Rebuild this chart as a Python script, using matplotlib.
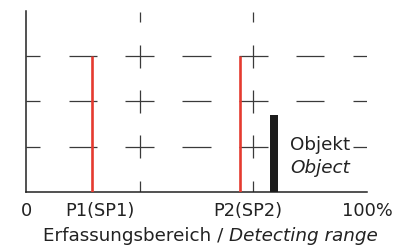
import matplotlib
matplotlib.use('Agg')
import matplotlib.pyplot as plt
import numpy as np

plt.rcParams['font.family'] = ['DejaVu Sans']

# axis range (arbitrary units)
x_max = 6
y_max = 4
grid_y = [1, 2, 3]
grid_x = [2, 4]

# switching points
sp_x = [1.16, 3.77]
sp_top = 3

# object bar
obj_x = 4.37
obj_height = 1.71
obj_width = 0.14

tick_pos = [0, 1.3, 3.9, 6]
tick_labels = ['0', 'P1(SP1)', 'P2(SP2)', '100%']

fig = plt.figure(figsize=(3.95, 2.45), dpi=100)
ax = fig.add_axes([26/395, 53/245, 341/395, 181/245])
ax.set_xlim(0, x_max)
ax.set_ylim(0, y_max)

gc = '#3a3a3a'
gw = 0.9
# dashed grid, dashes centred on the unit marks
for y in grid_y:
    for c in range(0, x_max + 1):
        ax.hlines(y, max(c - 0.25, 0), min(c + 0.25, x_max), color=gc, lw=gw, zorder=1)
for x in grid_x:
    for c in range(0, y_max + 1):
        ax.vlines(x, max(c - 0.25, 0), min(c + 0.25, y_max - 0.02), color=gc, lw=gw, zorder=1)

# red switching point lines
ax.vlines(sp_x, 0, sp_top, color='#e53a2f', lw=1.9, zorder=3)

# object
ax.bar(obj_x, obj_height, width=obj_width, color='#1c1c1c', zorder=3)
ax.text(4.645, 0.93, 'Objekt', fontsize=13.2, va='baseline', ha='left', color='#222222',
        bbox=dict(facecolor='white', edgecolor='none', pad=1.5), zorder=4)
ax.text(4.645, 0.42, 'Object', fontsize=13.2, style='italic', va='baseline', ha='left',
        color='#222222', zorder=4)

for s in ['top', 'right']:
    ax.spines[s].set_visible(False)
for s in ['left', 'bottom']:
    ax.spines[s].set_color('#222222')
    ax.spines[s].set_linewidth(1.1)
ax.set_yticks([])
ax.set_xticks(tick_pos)
ax.set_xticklabels(tick_labels, fontsize=12.8, color='#222222')
ax.tick_params(axis='x', length=0, pad=7)

fig.text(229/395, 4/245, 'Erfassungsbereich / ', fontsize=13.2, ha='right', va='baseline', color='#222222')
fig.text(229/395, 4/245, 'Detecting range', fontsize=13.2, style='italic', ha='left', va='baseline', color='#222222')

fig.savefig('out.png', dpi=100)
